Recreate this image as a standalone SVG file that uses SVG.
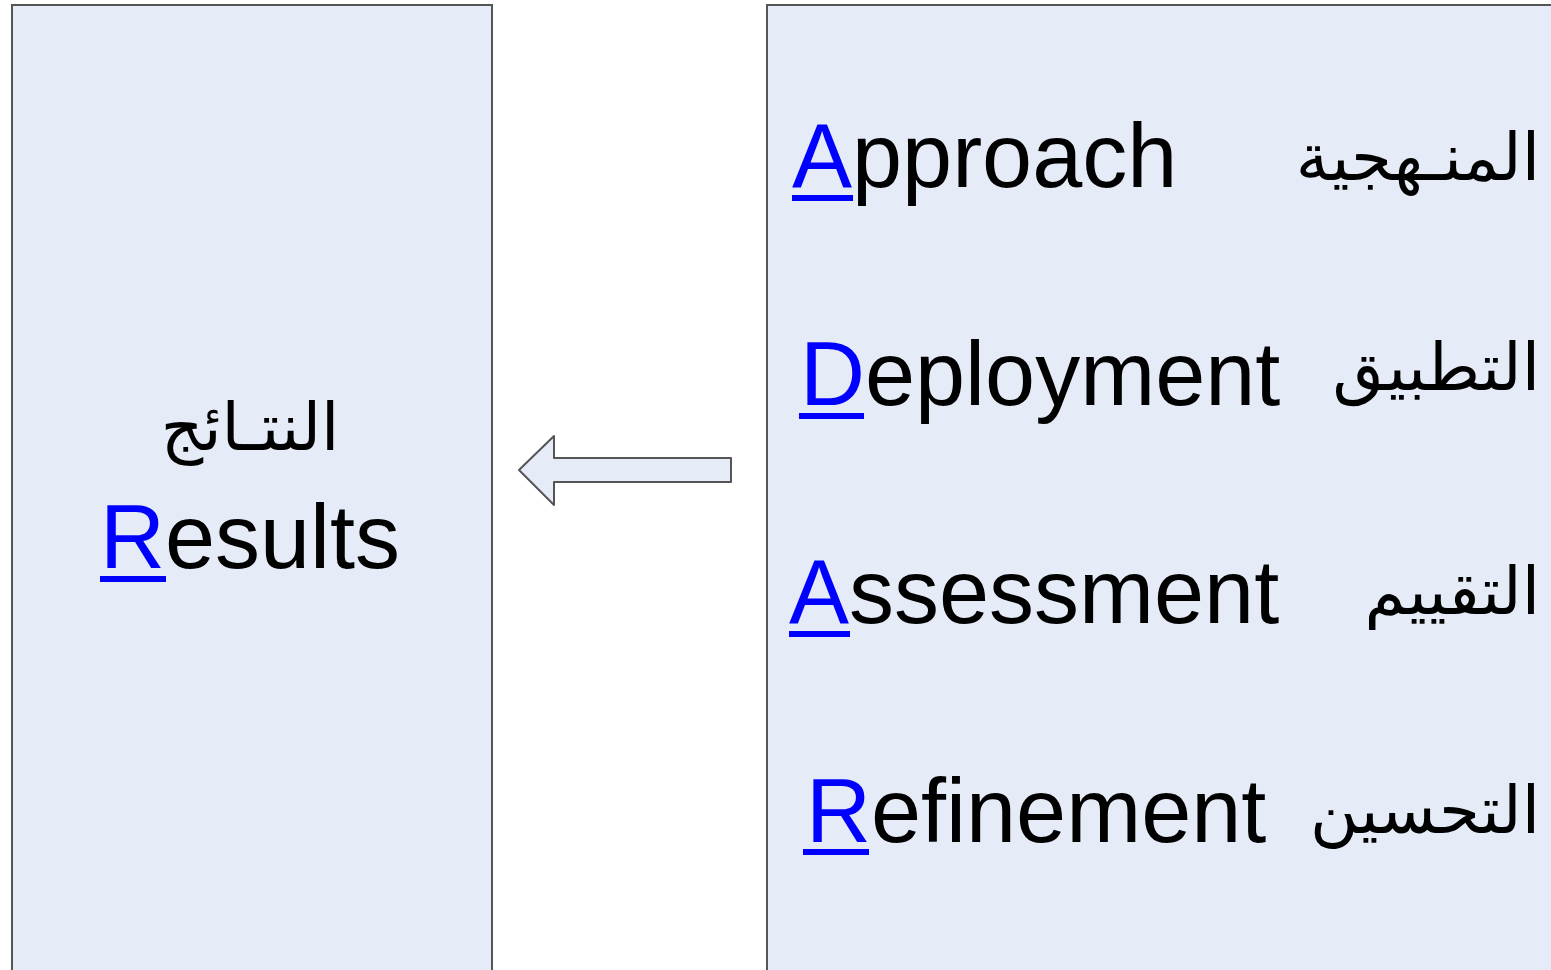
<svg xmlns="http://www.w3.org/2000/svg" width="1551" height="970" viewBox="0 0 1551 970">
<style>
.box{fill:#e6ecf7;stroke:#555;stroke-width:2}
.en{font-family:"Liberation Sans",Arial,sans-serif;font-size:90px;fill:#000}
.ar{font-family:"DejaVu Sans","Liberation Serif",serif;font-size:66px;fill:#000}
.ul{fill:#0000ff}
.hi{fill:#0000ff}
</style>
<rect width="1551" height="970" fill="#ffffff"/>
<g id="results">
<rect class="box" x="12" y="5" width="480" height="980"/>
<text class="ar" x="250" y="450" text-anchor="middle">النتـائج</text>
<text class="en" x="100" y="568"><tspan class="hi">R</tspan>esults</text>
<rect class="ul" x="100" y="576" width="66" height="6"/>
</g>
<g id="connectors">
<polygon points="519,470 554,436 554,458 731,458 731,482 554,482 554,505" fill="#e6ecf7" stroke="#555" stroke-width="2" stroke-linejoin="round"/>
</g>
<g id="enablers">
<rect class="box" x="767" y="5" width="800" height="980"/>
<text class="en" x="792" y="187"><tspan class="hi">A</tspan>pproach</text>
<rect class="ul" x="792" y="195" width="61" height="6"/>
<text class="ar" x="1540" y="180" text-anchor="end">المنـهجية</text>
<text class="en" x="800" y="405"><tspan class="hi">D</tspan>eployment</text>
<rect class="ul" x="799" y="413" width="65" height="6"/>
<text class="ar" x="1540" y="390" text-anchor="end">التطبيق</text>
<text class="en" x="789" y="623"><tspan class="hi">A</tspan>ssessment</text>
<rect class="ul" x="789" y="631" width="61" height="6"/>
<text class="ar" x="1540" y="614" text-anchor="end">التقييم</text>
<text class="en" x="806" y="842"><tspan class="hi">R</tspan>efinement</text>
<rect class="ul" x="803" y="849" width="66" height="6"/>
<text class="ar" x="1540" y="833" text-anchor="end">التحسين</text>
</g>
</svg>
